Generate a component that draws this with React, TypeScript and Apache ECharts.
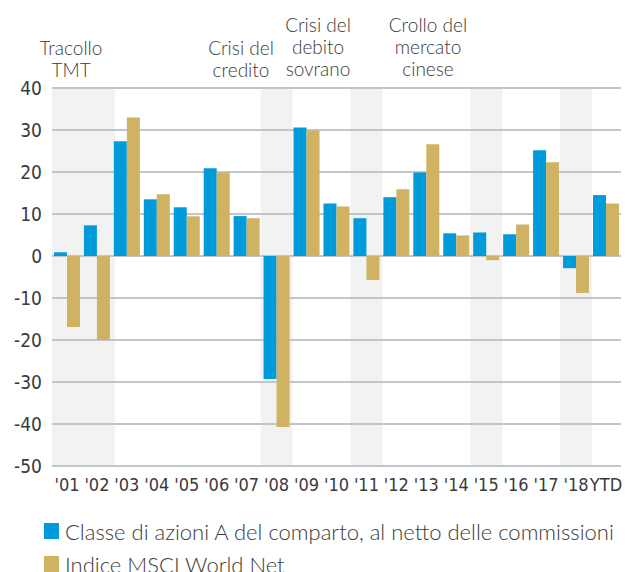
import React, { useEffect, useRef } from "react";
import * as echarts from "echarts";

const categories = ["'01", "'02", "'03", "'04", "'05", "'06", "'07", "'08", "'09", "'10", "'11", "'12", "'13", "'14", "'15", "'16", "'17", "'18", "YTD"];
const fundValues = [0.9, 7.3, 27.3, 13.5, 11.6, 20.9, 9.5, -29.3, 30.6, 12.5, 9.0, 14.0, 19.9, 5.4, 5.6, 5.2, 25.2, -2.9, 14.5];
const indexValues = [-16.9, -20.0, 33.0, 14.7, 9.45, 19.9, 9.0, -40.7, 29.9, 11.8, -5.7, 15.9, 26.6, 4.9, -1.0, 7.5, 22.3, -8.8, 12.5];
const seriesNames = ["Classe di azioni A del comparto, al netto delle commissioni", "Indice MSCI World Net"];
// crisis periods in category-index units [start, end]
const crisisBands = [[0, 2.1], [6.97, 8.03], [9.97, 11.03], [13.97, 15.03], [16.97, 18.03]];
const crisisLabels = [
  { lines: ["Tracollo", "TMT"], x: 71, y: 47 },
  { lines: ["Crisi del", "credito"], x: 241, y: 47 },
  { lines: ["Crisi del", "debito", "sovrano"], x: 318, y: 24 },
  { lines: ["Crollo del", "mercato", "cinese"], x: 428, y: 24 },
];

const BLUE = "#009bdb";
const GOLD = "#cfb262";
const TEXT = "#3a3a3a";
const AXIS_FONT = "'DejaVu Sans Condensed', 'Roboto', sans-serif";
const TEXT_FONT = "Lato, 'Open Sans', sans-serif";

export default function App() {
  const ref = useRef<HTMLDivElement>(null);
  useEffect(() => {
    if (!ref.current) return;
    const chart = echarts.init(ref.current, undefined, { renderer: "svg" });
    const graphics: any[] = [];
    crisisLabels.forEach((c) => {
      c.lines.forEach((l, i) => {
        graphics.push({
          type: "text",
          x: c.x,
          y: c.y + i * 22,
          style: {
            text: l,
            fill: TEXT,
            font: `300 19px ${TEXT_FONT}`,
            textAlign: "center",
            textVerticalAlign: "middle",
          },
        });
      });
    });
    const legendColors = [BLUE, GOLD];
    seriesNames.forEach((n, i) => {
      const cy = 531 + i * 33;
      graphics.push({
        type: "rect",
        shape: { x: 44, y: cy - 8, width: 15, height: 16 },
        style: { fill: legendColors[i] },
      });
      graphics.push({
        type: "text",
        x: 65,
        y: cy,
        style: {
          text: n,
          fill: TEXT,
          font: `300 22px ${TEXT_FONT}`,
          textAlign: "left",
          textVerticalAlign: "middle",
        },
      });
    });
    chart.setOption({
      animation: false,
      grid: { left: 52, right: 0, top: 88, bottom: 106 },
      xAxis: [
        {
          type: "category",
          data: categories,
          axisLine: { show: false },
          axisTick: { show: false },
          axisLabel: { color: TEXT, fontSize: 18, fontFamily: AXIS_FONT, margin: 9, interval: 0 },
        },
        { type: "value", min: 0, max: 19, show: false },
      ],
      yAxis: {
        type: "value",
        min: -50,
        max: 40,
        interval: 10,
        axisLine: { show: false },
        axisTick: { show: false },
        axisLabel: { color: TEXT, fontSize: 19, fontFamily: AXIS_FONT, margin: 10 },
        splitLine: { lineStyle: { color: "#bfc6cc", width: 2 } },
      },
      graphic: graphics,
      series: [
        {
          type: "line",
          xAxisIndex: 1,
          data: [],
          z: -10,
          silent: true,
          markArea: {
            silent: true,
            z: -10,
            itemStyle: { color: "#f2f2f2" },
            data: crisisBands.map((b) => [{ xAxis: b[0] }, { xAxis: b[1] }]),
          },
        },
        {
          name: seriesNames[0],
          type: "bar",
          data: fundValues,
          barWidth: 13,
          barGap: "0%",
          itemStyle: { color: BLUE },
        },
        {
          name: seriesNames[1],
          type: "bar",
          data: indexValues,
          barWidth: 13,
          barGap: "0%",
          itemStyle: { color: GOLD },
        },
      ],
    });
    return () => chart.dispose();
  }, []);
  return <div ref={ref} style={{ width: 625, height: 572, position: "absolute", left: 0, top: 0 }} />;
}
